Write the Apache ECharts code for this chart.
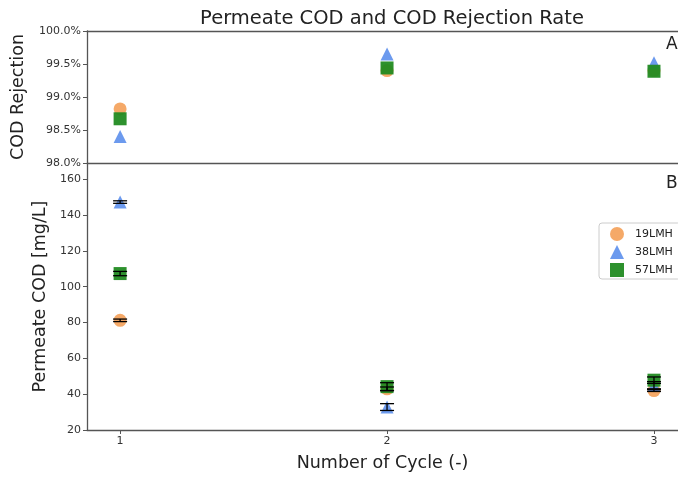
<!DOCTYPE html>
<html><head><meta charset="utf-8">
<script src="https://cdn.jsdelivr.net/npm/echarts@6/dist/echarts.min.js"></script>
<style>html,body{margin:0;padding:0;background:#fff}#c{width:678px;height:477px}</style>
</head><body><div id="c"></div>
<script>
const cycles = [1, 2, 3];
const seriesNames = ['19LMH', '38LMH', '57LMH'];
const rej19 = [98.82, 99.40, 99.40];
const rej38 = [98.40, 99.65, 99.52];
const rej57 = [98.67, 99.44, 99.39];
const cod19 = [81.2, 43.0, 42.0];
const cod38 = [147.2, 32.8, 45.0];
const cod57 = [107.3, 44.2, 47.8];
const err19 = [0.7, 1.0, 0.5];
const err38 = [0.7, 1.9, 2.0];
const err57 = [1.2, 2.2, 1.8];
const rejTicks = [98, 98.5, 99, 99.5, 100];
const codTicks = [20, 40, 60, 80, 100, 120, 140, 160];

const colors = ['#f4a460', '#6495ed', '#228b22'];
const symbols = ['circle', 'triangle', 'rect'];
const rej = [rej19, rej38, rej57];
const cod = [cod19, cod38, cod57];
const errs = [err19, err38, err57];
const font = 'DejaVu Sans';
const axisCol = '#555';

const chart = echarts.init(document.getElementById('c'));
const series = [];
seriesNames.forEach((n, i) => {
  series.push({
    name: n, type: 'scatter', xAxisIndex: 0, yAxisIndex: 0,
    symbol: symbols[i], symbolSize: 13,
    itemStyle: {color: colors[i], opacity: 0.95},
    data: cycles.map((c, k) => [c, rej[i][k]]), z: 2 + i
  });
  series.push({
    name: n, type: 'scatter', xAxisIndex: 2, yAxisIndex: 1,
    symbol: symbols[i], symbolSize: 13,
    itemStyle: {color: colors[i], opacity: 0.95},
    data: cycles.map((c, k) => [c, cod[i][k]]), z: 2 + i
  });
  series.push({
    type: 'custom', xAxisIndex: 2, yAxisIndex: 1, z: 10,
    data: cycles.map((c, k) => [c, cod[i][k], errs[i][k]]),
    renderItem: function (params, api) {
      const x = api.value(0), y = api.value(1), e = api.value(2);
      const top = api.coord([x, y + e]);
      const bot = api.coord([x, y - e]);
      const hw = 7;
      const st = {stroke: '#000', lineWidth: 1.3};
      return {type: 'group', children: [
        {type: 'line', shape: {x1: top[0], y1: top[1], x2: bot[0], y2: bot[1]}, style: st},
        {type: 'line', shape: {x1: top[0] - hw, y1: top[1], x2: top[0] + hw, y2: top[1]}, style: st},
        {type: 'line', shape: {x1: bot[0] - hw, y1: bot[1], x2: bot[0] + hw, y2: bot[1]}, style: st}
      ]};
    }
  });
});

const xBase = {type: 'value', min: 0.876, max: 3.09, splitLine: {show: false},
  axisLine: {show: true, lineStyle: {color: axisCol, width: 1.3}}};

chart.setOption({
  animation: false,
  textStyle: {fontFamily: font},
  title: {text: 'Permeate COD and COD Rejection Rate', left: 387, textAlign: 'center', top: 4,
    textStyle: {fontFamily: font, fontSize: 19.5, fontWeight: 'normal', color: '#222'}},
  legend: {
    data: seriesNames.map((n, i) => ({name: n, icon: symbols[i], itemStyle: {color: colors[i]}})),
    orient: 'vertical', left: 599, top: 223, itemWidth: 14, itemHeight: 14, itemGap: 4,
    padding: [4, 8, 2, 11], borderColor: '#ccc', borderWidth: 1, borderRadius: 3,
    textStyle: {fontFamily: font, fontSize: 11, color: '#222', padding: [0, 0, 0, 6]}
  },
  grid: [
    {left: 87, right: 0, top: 31, height: 132},
    {left: 87, right: 0, top: 163, height: 269}
  ],
  xAxis: [
    Object.assign({}, xBase, {gridIndex: 0, position: 'bottom', axisTick: {show: false}, axisLabel: {show: false}}),
    Object.assign({}, xBase, {gridIndex: 0, position: 'top', axisTick: {show: false}, axisLabel: {show: false}}),
    Object.assign({}, xBase, {gridIndex: 1, position: 'bottom',
      name: 'Number of Cycle (-)', nameLocation: 'middle', nameGap: 24,
      nameTextStyle: {fontFamily: font, fontSize: 17.5, color: '#222'},
      axisTick: {show: true, length: 4, lineStyle: {color: axisCol}, customValues: cycles},
      axisLabel: {fontSize: 11, color: '#333', margin: 6, customValues: cycles, formatter: v => String(v)}})
  ],
  yAxis: [
    {type: 'value', gridIndex: 0, min: 98, max: 100, interval: 0.5, splitLine: {show: false},
      name: 'COD Rejection', nameLocation: 'middle', nameGap: 60,
      nameTextStyle: {fontFamily: font, fontSize: 17.5, color: '#222'},
      axisLine: {show: true, lineStyle: {color: axisCol, width: 1.3}},
      axisTick: {show: true, length: 4, lineStyle: {color: axisCol}},
      axisLabel: {fontSize: 11, color: '#333', margin: 6, customValues: rejTicks, formatter: v => v.toFixed(1) + '%'}},
    {type: 'value', gridIndex: 1, min: 20, max: 169, splitLine: {show: false},
      name: 'Permeate COD [mg/L]', nameLocation: 'middle', nameGap: 37,
      nameTextStyle: {fontFamily: font, fontSize: 17.5, color: '#222'},
      axisLine: {show: true, lineStyle: {color: axisCol, width: 1.3}},
      axisTick: {show: true, length: 4, lineStyle: {color: axisCol}, customValues: codTicks},
      axisLabel: {fontSize: 11, color: '#333', margin: 6, customValues: codTicks}}
  ],
  graphic: [
    {type: 'text', left: 666, top: 36, style: {text: 'A', font: '17px "DejaVu Sans"', fill: '#222'}},
    {type: 'text', left: 666, top: 175, style: {text: 'B', font: '17px "DejaVu Sans"', fill: '#222'}}
  ],
  series: series
});
</script></body></html>
